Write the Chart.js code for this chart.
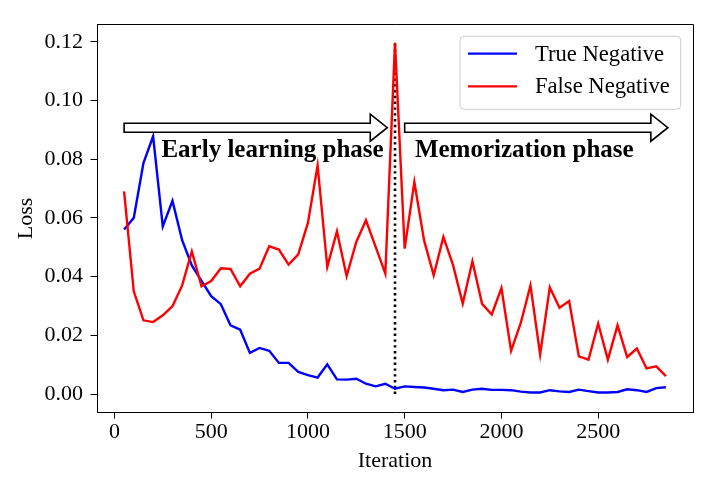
<!DOCTYPE html>
<html><head><meta charset="utf-8">
<script src="https://cdn.jsdelivr.net/npm/chart.js@4/dist/chart.umd.min.js"></script>
<style>html,body{margin:0;padding:0;background:#fff}#wrap{width:719px;height:487px;position:relative}canvas{display:block}</style>
</head><body><div id="wrap"><canvas id="c" width="719" height="487" style="width:719px;height:487px"></canvas></div>
<script>
// ---- data ----
const iterations = [50,100,150,200,250,300,350,400,450,500,550,600,650,700,750,800,850,900,950,1000,
  1050,1100,1150,1200,1250,1300,1350,1400,1450,1500,1550,1600,1650,1700,1750,1800,1850,1900,1950,2000,
  2050,2100,2150,2200,2250,2300,2350,2400,2450,2500,2550,2600,2650,2700,2750,2800,2850];
const trueNegative = [0.056,0.060,0.0787,0.0878,0.0571,0.0658,0.0524,0.0438,0.0385,0.0333,
  0.0306,0.0234,0.0219,0.0140,0.0157,0.0147,0.0106,0.0106,0.0075,0.0064,
  0.0056,0.0101,0.0050,0.0049,0.0052,0.0035,0.0026,0.0035,0.0018,0.0026,
  0.0024,0.0022,0.0018,0.0013,0.0015,0.0007,0.0015,0.0018,0.0014,0.0014,
  0.0013,0.0008,0.0005,0.0005,0.0013,0.0009,0.0007,0.0015,0.0010,0.0005,
  0.0005,0.0007,0.0016,0.0013,0.0007,0.0020,0.0023];
const falseNegative = [0.069,0.035,0.0251,0.0245,0.0268,0.0299,0.0370,0.0486,0.0367,0.0385,
  0.0428,0.0426,0.0367,0.0410,0.0427,0.0503,0.0492,0.0441,0.0476,0.0583,
  0.0779,0.0433,0.0554,0.0402,0.0518,0.0592,0.0501,0.0410,0.1196,0.0495,
  0.0722,0.0524,0.0404,0.0535,0.0439,0.0308,0.0452,0.0307,0.0271,0.0361,
  0.0147,0.0242,0.0370,0.0135,0.0363,0.0294,0.0317,0.0128,0.0117,0.0240,
  0.0117,0.0234,0.0126,0.0155,0.0087,0.0094,0.0061];
const seriesLabels = ['True Negative', 'False Negative'];
const xTickValues = [0,500,1000,1500,2000,2500];
const yTickValues = [0,0.02,0.04,0.06,0.08,0.10,0.12];
const phaseBoundary = 1450;
const boundaryRange = [0, 0.12];
const phaseNames = ['Early learning phase', 'Memorization phase'];

// ---- annotation layout (data coords) ----
const arrowSpecs = [{from: 50, to: 1410, y: 0.0907}, {from: 1500, to: 2860, y: 0.0907}];
const phaseTextPos = [{x: 243, y: 0.0807}, {x: 1553, y: 0.0807}];

const SERIF = '"Liberation Serif", "Times New Roman", serif';

const toPts = (xs, ys) => xs.map((x, i) => ({x: x, y: ys[i]}));

const annotationPlugin = {
  id: 'phaseAnnotations',
  afterDatasetsDraw(chart) {
    const ctx = chart.ctx, xs = chart.scales.x, ys = chart.scales.y;
    ctx.save();
    arrowSpecs.forEach(a => {
      const x0 = xs.getPixelForValue(a.from), xt = xs.getPixelForValue(a.to);
      const yc = ys.getPixelForValue(a.y);
      const sh = 4.5, hh = 13.5, hl = 17;
      const xb = xt - hl;
      ctx.beginPath();
      ctx.moveTo(x0, yc - sh); ctx.lineTo(xb, yc - sh); ctx.lineTo(xb, yc - hh);
      ctx.lineTo(xt, yc); ctx.lineTo(xb, yc + hh); ctx.lineTo(xb, yc + sh);
      ctx.lineTo(x0, yc + sh); ctx.closePath();
      ctx.fillStyle = '#fff'; ctx.fill();
      ctx.lineWidth = 1.6; ctx.strokeStyle = '#000'; ctx.lineJoin = 'miter'; ctx.stroke();
    });
    ctx.fillStyle = '#000';
    ctx.font = 'bold 25px ' + SERIF;
    ctx.textAlign = 'left'; ctx.textBaseline = 'alphabetic';
    phaseNames.forEach((t, i) => {
      ctx.fillText(t, xs.getPixelForValue(phaseTextPos[i].x), ys.getPixelForValue(phaseTextPos[i].y));
    });
    ctx.restore();
  },
  afterDraw(chart) {
    const ctx = chart.ctx, ca = chart.chartArea;
    ctx.save();
    // frame top & right
    ctx.strokeStyle = '#000'; ctx.lineWidth = 1;
    ctx.beginPath();
    ctx.moveTo(ca.left, ca.top - 0.5); ctx.lineTo(ca.right + 0.5, ca.top - 0.5);
    ctx.lineTo(ca.right + 0.5, ca.bottom + 1);
    ctx.stroke();
    // legend
    const bx = 460, by = ca.top + 11.3, bw = 220.7, bh = 73, r = 4;
    ctx.beginPath();
    ctx.moveTo(bx + r, by); ctx.lineTo(bx + bw - r, by); ctx.arcTo(bx + bw, by, bx + bw, by + r, r);
    ctx.lineTo(bx + bw, by + bh - r); ctx.arcTo(bx + bw, by + bh, bx + bw - r, by + bh, r);
    ctx.lineTo(bx + r, by + bh); ctx.arcTo(bx, by + bh, bx, by + bh - r, r);
    ctx.lineTo(bx, by + r); ctx.arcTo(bx, by, bx + r, by, r); ctx.closePath();
    ctx.fillStyle = 'rgba(255,255,255,0.8)'; ctx.fill();
    ctx.strokeStyle = '#cccccc'; ctx.lineWidth = 1; ctx.stroke();
    ctx.font = '22.6px ' + SERIF; ctx.textBaseline = 'middle'; ctx.textAlign = 'left';
    const rowsY = [by + 17.3, by + 50];
    chart.data.datasets.slice(0, 2).forEach((ds, i) => {
      ctx.strokeStyle = ds.borderColor; ctx.lineWidth = 2.3;
      ctx.beginPath(); ctx.moveTo(468, rowsY[i]); ctx.lineTo(517, rowsY[i]); ctx.stroke();
      ctx.fillStyle = '#000';
      ctx.fillText(ds.label, 535, rowsY[i] + 1);
    });
    ctx.restore();
  }
};

new Chart(document.getElementById('c'), {
  type: 'line',
  data: {
    datasets: [
      {label: seriesLabels[0], data: toPts(iterations, trueNegative), borderColor: '#0000ff', borderWidth: 2.4, pointRadius: 0, tension: 0, fill: false, order: 1},
      {label: seriesLabels[1], data: toPts(iterations, falseNegative), borderColor: '#ff0000', borderWidth: 2.4, pointRadius: 0, tension: 0, fill: false, order: 0},
      {label: 'boundary', data: [{x: phaseBoundary, y: boundaryRange[0]}, {x: phaseBoundary, y: boundaryRange[1]}], borderColor: '#000', borderWidth: 2.6, borderDash: [2.4, 3.4], pointRadius: 0, fill: false, order: 2}
    ]
  },
  options: {
    responsive: false, animation: false, devicePixelRatio: 1,
    layout: {padding: {top: 25, right: 26, left: 0, bottom: 0}},
    plugins: {legend: {display: false}, tooltip: {enabled: false}},
    scales: {
      x: {
        type: 'linear', min: -90, max: 2990,
        afterBuildTicks: s => { s.ticks = xTickValues.map(v => ({value: v})); },
        afterFit: s => { s.height = 75; },
        ticks: {callback: v => String(v), color: '#000', font: {family: SERIF, size: 22}, padding: 1, maxRotation: 0, autoSkip: false},
        grid: {drawOnChartArea: false, drawTicks: true, tickLength: 6.5, tickColor: '#000', tickWidth: 1},
        border: {display: true, color: '#000', width: 1},
        title: {display: true, text: 'Iteration', color: '#000', font: {family: SERIF, size: 22}, padding: {top: 0, bottom: 12.9}}
      },
      y: {
        type: 'linear', min: -0.00613, max: 0.1257,
        afterBuildTicks: s => { s.ticks = yTickValues.map(v => ({value: v})); },
        afterFit: s => { s.width = 97; },
        ticks: {callback: v => Number(v).toFixed(2), color: '#000', font: {family: SERIF, size: 22}, padding: 7.5, autoSkip: false},
        grid: {drawOnChartArea: false, drawTicks: true, tickLength: 6.5, tickColor: '#000', tickWidth: 1},
        border: {display: true, color: '#000', width: 1},
        title: {display: true, text: 'Loss', color: '#000', font: {family: SERIF, size: 22}, padding: {top: 12.7, bottom: 0}}
      }
    }
  },
  plugins: [annotationPlugin]
});
</script>
</body></html>
